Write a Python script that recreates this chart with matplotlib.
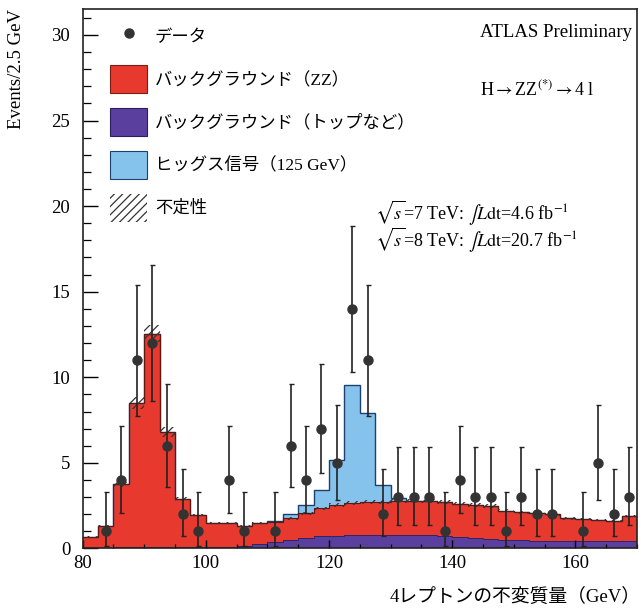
import numpy as np
import matplotlib
matplotlib.use("Agg")
import matplotlib.pyplot as plt
from matplotlib.patches import Patch
from matplotlib.lines import Line2D
from matplotlib.ticker import MultipleLocator

plt.rcParams['font.family'] = ['Liberation Serif', 'Noto Sans CJK JP']
plt.rcParams['mathtext.fontset'] = 'stix'
plt.rcParams['hatch.linewidth'] = 0.9

# binning: 2.5 GeV bins from 80 to 170 GeV
bin_lo = 80.0
bin_width = 2.5
n_bins = 36

# observed events per bin
data_counts = [0, 1, 4, 11, 12, 6, 2, 1, 0, 4, 1, 0,
               1, 6, 4, 7, 5, 14, 11, 2, 3, 3, 3, 1,
               4, 3, 3, 1, 3, 2, 2, 0, 1, 5, 2, 3]

# background: top and others (purple)
bkg_other = [0.05, 0.05, 0.06, 0.07, 0.08, 0.08, 0.08, 0.08, 0.08, 0.10, 0.15, 0.25,
             0.40, 0.50, 0.60, 0.70, 0.75, 0.78, 0.80, 0.80, 0.80, 0.80, 0.78, 0.75,
             0.68, 0.60, 0.55, 0.50, 0.47, 0.45, 0.44, 0.43, 0.43, 0.42, 0.42, 0.42]

# total background (ZZ stacked on top of others)
bkg_total = [0.69, 1.33, 3.74, 8.50, 12.55, 6.80, 2.89, 1.95, 1.47, 1.47, 1.33, 1.47,
             1.56, 1.76, 2.05, 2.35, 2.54, 2.64, 2.70, 2.73, 2.77, 2.79, 2.79, 2.72,
             2.62, 2.55, 2.48, 2.20, 2.12, 2.07, 2.00, 1.76, 1.72, 1.68, 1.62, 1.90]

# Higgs signal (m_H = 125 GeV)
signal = [0, 0, 0, 0, 0, 0, 0, 0, 0, 0, 0, 0,
          0.03, 0.25, 0.49, 1.06, 2.62, 6.90, 5.22, 0.97, 0.16, 0, 0, 0,
          0, 0, 0, 0, 0, 0, 0, 0, 0, 0, 0, 0]

# relative systematic uncertainty on background
bkg_unc = 0.04

# 68% Poisson intervals for the observed counts
poisson_lo = {1: 0.17, 2: 0.71, 3: 1.37, 4: 2.09, 5: 2.84, 6: 3.62, 7: 4.42, 11: 7.74, 12: 8.59, 14: 10.31}
poisson_hi = {1: 3.30, 2: 4.64, 3: 5.92, 4: 7.16, 5: 8.38, 6: 9.58, 7: 10.77, 11: 15.41, 12: 16.56, 14: 18.83}

legend_labels = ["データ", "バックグラウンド（ZZ）", "バックグラウンド（トップなど）",
                 "ヒッグス信号（125 GeV）", "不定性"]

c_red = "#e8392f"
c_purple = "#5a3f9e"
c_blue = "#86c3ec"

edges = bin_lo + bin_width * np.arange(n_bins + 1)
centers = edges[:-1] + bin_width / 2
counts = np.array(data_counts)
other = np.array(bkg_other)
total = np.array(bkg_total)
sig = np.array(signal)

fig = plt.figure(figsize=(6.41, 6.08), dpi=100)
ax = fig.add_axes([0.129, 0.0979, 0.8647, 0.8868])

# stacked histograms
ax.stairs(other, edges, baseline=0, fill=True, color=c_purple, lw=0)
ax.stairs(total, edges, baseline=other, fill=True, color=c_red, lw=0)
ax.stairs(total + sig, edges, baseline=total, fill=True, color=c_blue, lw=0)
ax.stairs(total + sig, edges, baseline=None, color="#1f3f6e", lw=1.0)
ax.stairs(total, edges, baseline=None, color="#5a1a12", lw=0.8)
ax.stairs(other, edges, baseline=None, color="#2c1f5a", lw=0.6)

# uncertainty band
ax.stairs(total * (1 + bkg_unc), edges, baseline=total * (1 - bkg_unc), fill=True,
          facecolor="none", edgecolor="#333333", hatch="////", lw=0)

# data points
mask = counts > 0
lo = np.array([counts[i] - poisson_lo[counts[i]] for i in range(n_bins) if mask[i]])
hi = np.array([poisson_hi[counts[i]] - counts[i] for i in range(n_bins) if mask[i]])
ax.errorbar(centers[mask], counts[mask], yerr=[lo, hi], fmt="o", color="#333333",
            ecolor="#222222", ms=6.5, elinewidth=1.2, capsize=1.8, capthick=1.0, zorder=5)

ax.set_xlim(80, 170)
ax.set_ylim(0, 31.5)
ax.xaxis.set_major_locator(MultipleLocator(20))
ax.xaxis.set_minor_locator(MultipleLocator(5))
ax.yaxis.set_major_locator(MultipleLocator(5))
ax.yaxis.set_minor_locator(MultipleLocator(1))
ax.tick_params(axis="y", which="major", direction="in", length=11, width=1.0, labelsize=13.5, pad=9)
ax.tick_params(axis="y", which="minor", direction="in", length=5.5, width=0.9)
ax.tick_params(axis="x", which="major", direction="in", length=6, width=1.0, labelsize=13.5, pad=5)
ax.tick_params(axis="x", which="minor", direction="in", length=3, width=0.9)
for sp in ax.spines.values():
    sp.set_linewidth(1.2)
    sp.set_color("#222222")

ax.set_ylabel("Events/2.5 GeV", fontsize=13.5, loc="top")
ax.yaxis.set_label_coords(-0.104, 1.0)
ax.set_xlabel("4レプトンの不変質量（GeV）", fontsize=13.5, loc="right")
ax.xaxis.set_label_coords(1.007, -0.073)

# legend
handles = [
    Line2D([], [], marker="o", ls="none", color="#333333", ms=6.5),
    Patch(facecolor=c_red, edgecolor="#7a1e16", lw=0.8),
    Patch(facecolor=c_purple, edgecolor="#2c1f5a", lw=0.8),
    Patch(facecolor=c_blue, edgecolor="#1f3f6e", lw=0.8),
    Patch(facecolor="none", edgecolor="#333333", hatch="////", lw=0),
]
ax.legend(handles, legend_labels, loc="upper left", bbox_to_anchor=(0.049, 0.975),
          frameon=False, fontsize=12.5, handlelength=2.15, handleheight=2.1,
          labelspacing=0.85, handletextpad=0.45, borderpad=0, borderaxespad=0)

ax.text(0.991, 0.957, "ATLAS Preliminary", transform=ax.transAxes, ha="right", va="center",
        fontsize=13.5)
ax.text(0.82, 0.852, r"H$\rightarrow$ZZ$^{(*)}$$\rightarrow$4 l", transform=ax.transAxes,
        ha="center", va="center", fontsize=13)
ax.text(0.527, 0.622, r"$\sqrt{s}$=7 TeV: $\int L\mathrm{dt}$=4.6 fb$^{-1}$",
        transform=ax.transAxes, ha="left", va="center", fontsize=13)
ax.text(0.527, 0.572, r"$\sqrt{s}$=8 TeV: $\int L\mathrm{dt}$=20.7 fb$^{-1}$",
        transform=ax.transAxes, ha="left", va="center", fontsize=13)

fig.savefig("out.png", dpi=100)
